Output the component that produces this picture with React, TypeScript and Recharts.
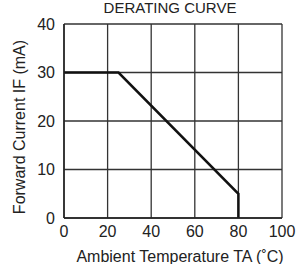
import React from 'react';
import { LineChart, Line, XAxis, YAxis, CartesianGrid, Label } from 'recharts';

const TEMPS = [0, 25, 80, 80];
const CURRENTS = [30, 30, 5, 0];
const X_TICKS = [0, 20, 40, 60, 80, 100];
const Y_TICKS = [0, 10, 20, 30, 40];

const data = TEMPS.map((t, i) => ({ temp: t, current: CURRENTS[i] }));

const FONT = '"Liberation Sans", Arial, sans-serif';

export default function App() {
  return (
    <div style={{ position: 'absolute', left: 0, top: 0, width: 301, height: 264, background: '#fff' }}>
      <LineChart
        width={301}
        height={264}
        data={data}
        margin={{ top: 24, right: 19, left: 0, bottom: 0 }}
        style={{ fontFamily: FONT }}
      >
        <text x={170} y={13} textAnchor="middle" fontSize={15} fill="#222" fontFamily={FONT}>
          DERATING CURVE
        </text>
        <text
          transform="translate(19,127) rotate(-90)"
          textAnchor="middle"
          dominantBaseline="central"
          fontSize={16}
          fill="#222"
          fontFamily={FONT}
        >
          Forward Current IF (mA)
        </text>
        <CartesianGrid stroke="#333" strokeWidth={1.3} />
        <XAxis
          dataKey="temp"
          type="number"
          domain={[0, 100]}
          ticks={X_TICKS}
          height={46}
          axisLine={{ stroke: '#222', strokeWidth: 1.5 }}
          tickLine={false}
          tick={{ fill: '#222', fontSize: 16, fontFamily: FONT }}
          tickMargin={2}
          interval={0}
        >
          <Label
            value="Ambient Temperature TA (˚C)"
            position="insideBottom"
            offset={2}
            dx={7}
            style={{ fill: '#222', fontSize: 16, fontFamily: FONT }}
          />
        </XAxis>
        <YAxis
          type="number"
          domain={[0, 40]}
          ticks={Y_TICKS}
          width={64}
          axisLine={{ stroke: '#222', strokeWidth: 1.5 }}
          tickLine={false}
          tick={{ fill: '#222', fontSize: 16, fontFamily: FONT }}
          tickMargin={3}
          interval={0}
        />
        <Line
          type="linear"
          dataKey="current"
          stroke="#111"
          strokeWidth={2.5}
          dot={false}
          isAnimationActive={false}
        />
      </LineChart>
    </div>
  );
}
